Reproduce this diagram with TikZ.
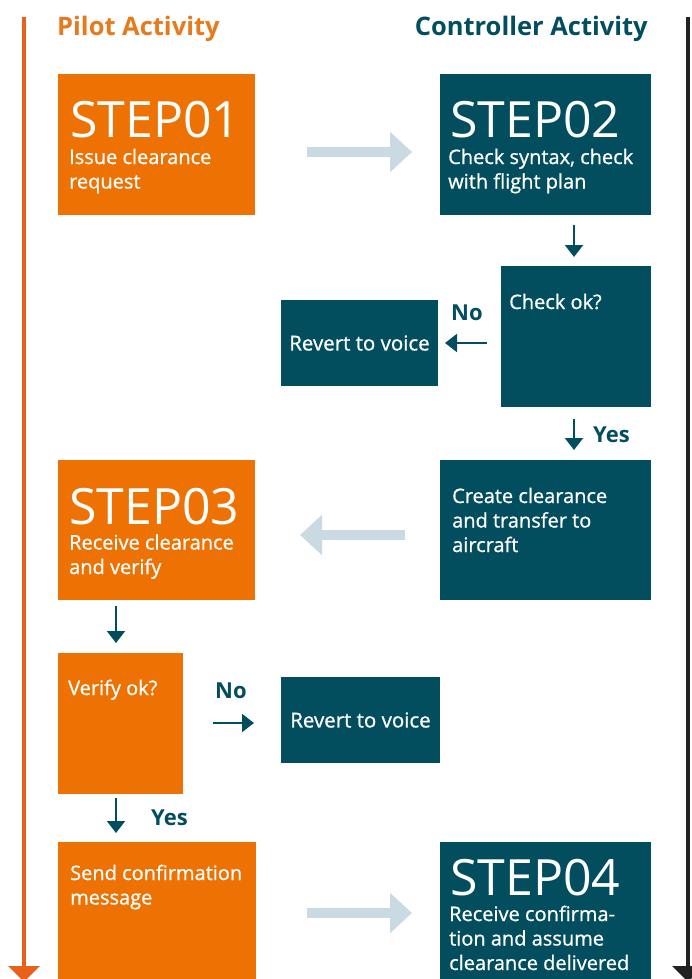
\documentclass[tikz,border=0pt]{standalone}
\usepackage{fontspec}
\setmainfont{Open Sans}
\newfontfamily\semib[FakeBold=0.8]{Open Sans}
\usetikzlibrary{arrows.meta,calc}
\definecolor{porange}{HTML}{EE7203}
\definecolor{cteal}{HTML}{034E5E}
\definecolor{lightarr}{HTML}{C9DAE2}
\definecolor{tpilot}{HTML}{E87A1E}
\definecolor{lineor}{HTML}{E8611A}
\definecolor{linebk}{HTML}{222222}
\begin{document}
\begin{tikzpicture}[x=1pt,y=-1pt,
  pbox/.style={fill=porange, draw=none, inner sep=0pt, outer sep=0pt, anchor=north west},
  cbox/.style={fill=cteal, draw=none, inner sep=0pt, outer sep=0pt, anchor=north west, text=white, font=\semib\fontsize{20.5}{24}\selectfont},
  steptxt/.style={text=white, font=\fontsize{50}{50}\selectfont, inner sep=0pt, anchor=base west, text depth=0pt},
  bodytxt/.style={text=white, font=\semib\fontsize{20}{24.5}\selectfont, inner sep=0pt, anchor=base west, align=left},
  lab/.style={text=cteal, font=\bfseries\fontsize{22}{22}\selectfont, inner sep=0pt, anchor=base west},
  head/.style={font=\bfseries\fontsize{25.5}{26}\selectfont, inner sep=0pt},
  flow/.style={draw=lightarr, line width=10pt, -{Triangle[width=39pt,length=22pt]}},
  darr/.style={draw=cteal, line width=2pt, -{Triangle[width=18pt,length=12pt]}},
  side/.style={line width=4pt, -{Triangle[width=31pt,length=16pt]}}
]
\useasboundingbox (0,0) rectangle (692,979);

% side lines
\coordinate (ptop) at (24,17);
\coordinate (pbot) at (24,982);
\coordinate (ctop) at (688,17);
\coordinate (cbot) at (688,982);
\draw[side, draw=lineor, fill=lineor] (ptop) -- (pbot);
\draw[side, draw=linebk, fill=linebk] (ctop) -- (cbot);

% headings
\node[head, text=tpilot, anchor=base west] (pt) at (57,36) {Pilot Activity};
\node[head, text=cteal, anchor=base east] (ct) at (648,36) {Controller Activity};

% boxes
\node[pbox, minimum width=197pt, minimum height=141pt] (s1) at (58,74) {};
\node[cbox, minimum width=211pt, minimum height=141pt] (s2) at (440,74) {};
\node[cbox, minimum width=150pt, minimum height=141pt] (ck) at (501,266) {};
\node[cbox, minimum width=157pt, minimum height=86pt] (rv1) at (281,300) {Revert to voice};
\node[cbox, minimum width=211pt, minimum height=140pt] (cr) at (440,460) {};
\node[pbox, minimum width=197pt, minimum height=140pt] (s3) at (58,460) {};
\node[pbox, minimum width=125pt, minimum height=141pt] (vf) at (58,653) {};
\node[cbox, minimum width=159pt, minimum height=86pt] (rv2) at (281,677) {Revert to voice};
\node[pbox, minimum width=198pt, minimum height=141pt] (sd) at (58,842) {};
\node[cbox, minimum width=211pt, minimum height=141pt] (s4) at (440,842) {};

% texts (base anchor = baseline of last line)
\node[steptxt] (s1a) at ($(s1.north west)+(12,63.5)$) {STEP01};
\node[bodytxt] (s1b) at ($(s1.north west)+(11,114.5)$) {Issue clearance\\request};
\node[steptxt] (s2a) at ($(s2.north west)+(10,63.5)$) {STEP02};
\node[bodytxt] (s2b) at ($(s2.north west)+(8,114.5)$) {Check syntax, check\\with flight plan};
\node[bodytxt] (cka) at ($(ck.north west)+(8,43)$) {Check ok?};
\node[bodytxt] (cra) at ($(cr.north west)+(12,92)$) {Create clearance\\and transfer to\\aircraft};
\node[steptxt] (s3a) at ($(s3.north west)+(11,64)$) {STEP03};
\node[bodytxt] (s3b) at ($(s3.north west)+(11,114)$) {Receive clearance\\and verify};
\node[bodytxt] (vfa) at ($(vf.north west)+(10,42)$) {Verify ok?};
\node[bodytxt] (sda) at ($(sd.north west)+(12,62.5)$) {Send confirmation\\message};
\node[steptxt] (s4a) at ($(s4.north west)+(10,53)$) {STEP04};
\node[bodytxt] (s4b) at ($(s4.north west)+(9,128)$) {Receive confirma-\\tion and assume\\clearance delivered};

% labels
\node[lab] (no1) at (451,320) {No};
\node[lab] (yes1) at (593,442) {Yes};
\node[lab] (no2) at (215,698) {No};
\node[lab] (yes2) at (151,825) {Yes};

% flow arrows
\draw[flow] ($(s1.east)+(52,7.5)$) -- ($(s2.west)+(-28,7.5)$);
\draw[flow] ($(cr.west)+(-35,5)$) -- ($(s3.east)+(45,5)$);
\draw[flow] ($(sd.east)+(51,0.5)$) -- ($(s4.west)+(-28,0.5)$);

% decision arrows
\draw[darr] ($(ck.north)+(-2,-41)$) -- ($(ck.north)+(-2,-9)$);
\draw[darr] ($(ck.west |- rv1.east)+(-14,0)$) -- ($(rv1.east)+(7,0)$);
\draw[darr] ($(ck.south)+(-2,12)$) -- ($(ck.south)+(-2,43)$);
\draw[darr] ($(vf.north)+(-4.5,-47)$) -- ($(vf.north)+(-4.5,-10)$);
\draw[darr] ($(rv2.west)+(-68,3)$) -- ($(rv2.west)+(-27,3)$);
\draw[darr] ($(vf.south)+(-4.5,4)$) -- ($(vf.south)+(-4.5,39)$);
\end{tikzpicture}
\end{document}
